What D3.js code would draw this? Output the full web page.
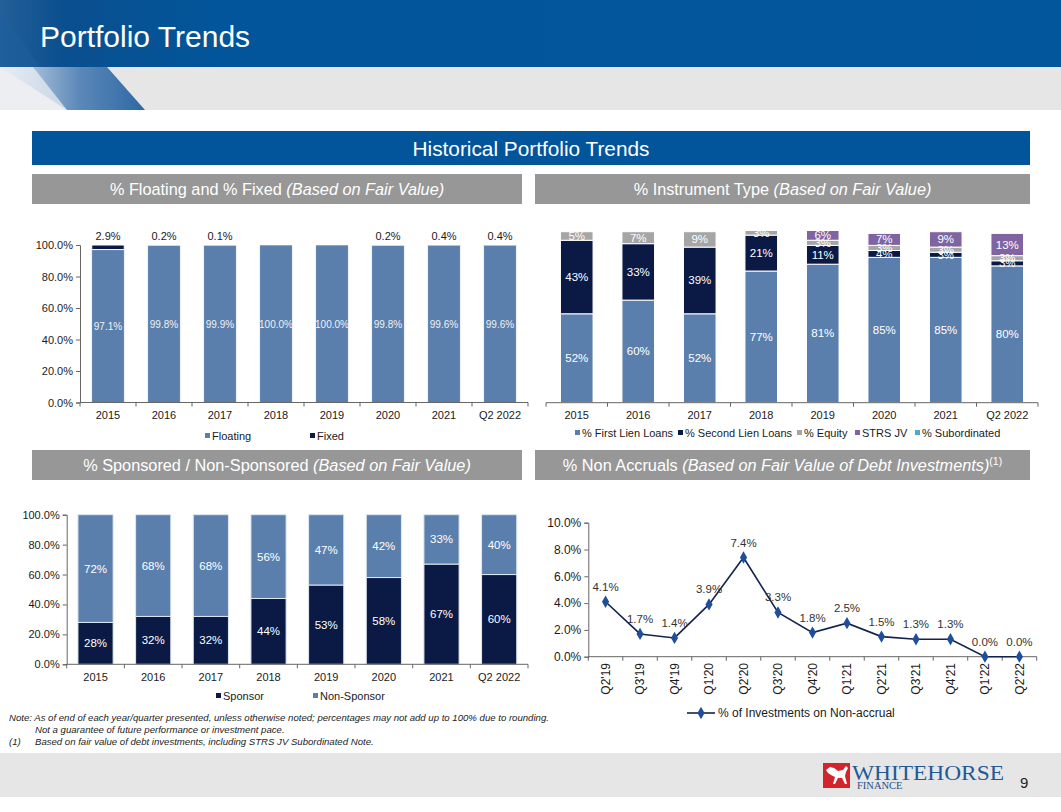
<!DOCTYPE html>
<html><head><meta charset="utf-8">
<script src="https://cdn.jsdelivr.net/npm/d3@7/dist/d3.min.js"></script>
<style>
body{margin:0;padding:0;background:#fff;}
svg{display:block;font-family:"Liberation Sans",Arial,sans-serif;}
</style></head>
<body>
<svg id="c" width="1061" height="812"></svg>
<script>
// ---------- DATA ----------
const years = ["2015","2016","2017","2018","2019","2020","2021","Q2 2022"];
const floating = [97.1,99.8,99.9,100.0,100.0,99.8,99.6,99.6];
const fixed = [2.9,0.2,0.1,0,0,0.2,0.4,0.4];

const firstLien = [52,60,52,77,81,85,85,80];
const secondLien = [43,33,39,21,11,4,3,3];
const equity = [5,7,9,3,3,3,3,3];
const strsJV = [0,0,0,0,6,7,9,13];
const subordinated = [0,0,0,0,0,0,0,0];

const sponsor = [28,32,32,44,53,58,67,60];
const nonSponsor = [72,68,68,56,47,42,33,40];

const quarters = ["Q2'19","Q3'19","Q4'19","Q1'20","Q2'20","Q3'20","Q4'20","Q1'21","Q2'21","Q3'21","Q4'21","Q1'22","Q2'22"];
const nonAccrual = [4.1,1.7,1.4,3.9,7.4,3.3,1.8,2.5,1.5,1.3,1.3,0.0,0.0];

const pctTicks = [0,20,40,60,80,100];
const naTicks = [0,2,4,6,8,10];

// ---------- STYLE ----------
const C = {
  steel:"#5b7fac", navy:"#0b1a45", gray:"#a5a5a5", purple:"#8064a2", teal:"#4bacc6",
  headBlue:"#02559a", subGray:"#979797", axis:"#666", text:"#1a1a1a"
};

const svg = d3.select("#c");
const defs = svg.append("defs");

// ---------- HEADER ----------
const hg = defs.append("linearGradient").attr("id","hg").attr("x1","0").attr("x2","1").attr("y1","0").attr("y2","0");
hg.append("stop").attr("offset","0").attr("stop-color","#245f98");
hg.append("stop").attr("offset","0.06").attr("stop-color","#0a4f8e");
hg.append("stop").attr("offset","0.2").attr("stop-color","#02559a");
hg.append("stop").attr("offset","1").attr("stop-color","#02569b");
svg.append("rect").attr("x",0).attr("y",0).attr("width",1061).attr("height",67).attr("fill","url(#hg)");
svg.append("polygon").attr("points","0,10 40,67 0,67").attr("fill","#1d5f9c").attr("opacity",0.6);
svg.append("rect").attr("x",0).attr("y",67).attr("width",1061).attr("height",43).attr("fill","#e6e6e6");
const pg = defs.append("linearGradient").attr("id","pg").attr("x1","0").attr("x2","1").attr("y1","0").attr("y2","0");
pg.append("stop").attr("offset","0").attr("stop-color","#d7e2ee");
pg.append("stop").attr("offset","0.55").attr("stop-color","#5b88b8");
pg.append("stop").attr("offset","1").attr("stop-color","#2e68a4");
svg.append("polygon").attr("points","0,67 107,67 145,110 67,110").attr("fill","url(#pg)");
svg.append("polygon").attr("points","0,67 33,67 67,110 0,110").attr("fill","#eef1f5").attr("opacity",0.7);
svg.append("text").attr("x",40).attr("y",47).attr("fill","#fff").attr("font-size",30).text("Portfolio Trends");

// Section bar
svg.append("rect").attr("x",32).attr("y",131).attr("width",998).attr("height",34).attr("fill",C.headBlue);
svg.append("text").attr("x",531).attr("y",155.5).attr("text-anchor","middle").attr("fill","#fff").attr("font-size",20.8).text("Historical Portfolio Trends");

function subHeader(x,y,w,main,ital,sup){
  svg.append("rect").attr("x",x).attr("y",y).attr("width",w).attr("height",30).attr("fill",C.subGray);
  const t = svg.append("text").attr("x",x+w/2).attr("y",y+20.5).attr("text-anchor","middle").attr("fill","#fff").attr("font-size",16.3);
  t.append("tspan").text(main);
  t.append("tspan").attr("font-style","italic").text(ital);
  if(sup){ t.append("tspan").attr("font-size",10.5).attr("dy",-6).text(sup); }
}
subHeader(32,174,490,"% Floating and % Fixed ","(Based on Fair Value)");
subHeader(535,174,495,"% Instrument Type ","(Based on Fair Value)");
subHeader(32,450,490,"% Sponsored / Non-Sponsored ","(Based on Fair Value)");
subHeader(535,450,495,"% Non Accruals ","(Based on Fair Value of Debt Investments)","(1)");

// ---------- helpers ----------
function bandAxis(g, x, y0, fs, labelY){
  const [r0,r1] = x.range();
  g.append("line").attr("x1",r0).attr("x2",r1).attr("y1",y0).attr("y2",y0).attr("stroke",C.axis).attr("stroke-width",1);
  const step = x.step();
  for(let i=0;i<=x.domain().length;i++){
    const xx = r0 + i*step;
    g.append("line").attr("x1",xx).attr("x2",xx).attr("y1",y0).attr("y2",y0+4).attr("stroke",C.axis);
  }
  g.selectAll(null).data(x.domain()).join("text")
    .attr("x",d=>x(d)+x.bandwidth()/2).attr("y",labelY).attr("text-anchor","middle")
    .attr("font-size",fs).attr("fill",C.text).text(d=>d);
}
function yAxis(g, y, x0, ticks, fmt, fs){
  const ax = d3.axisLeft(y).tickValues(ticks).tickFormat(fmt).tickSize(4).tickPadding(3);
  const a = g.append("g").attr("transform",`translate(${x0},0)`).call(ax);
  a.select(".domain").attr("stroke",C.axis);
  a.selectAll(".tick line").attr("stroke",C.axis);
  a.selectAll(".tick text").attr("font-size",fs).attr("fill",C.text).attr("font-family","Liberation Sans, Arial, sans-serif");
}
function legendItems(g, items, y, fs){
  items.forEach(it=>{
    g.append("rect").attr("x",it.x).attr("y",y-3).attr("width",5).attr("height",5).attr("fill",it.c);
    g.append("text").attr("x",it.x+7).attr("y",y+3.5).attr("font-size",fs).attr("fill",C.text).text(it.t);
  });
}

// ---------- CHART 1: Floating / Fixed ----------
{
  const g = svg.append("g");
  const x = d3.scaleBand().domain(years).range([80,528]).paddingInner(0.42).paddingOuter(0.21);
  const y = d3.scaleLinear().domain([0,100]).range([402.5,245]);
  const table = years.map((d,i)=>({year:d, Floating:floating[i], Fixed:fixed[i]}));
  const series = d3.stack().keys(["Floating","Fixed"])(table);
  const col = {Floating:C.steel, Fixed:C.navy};
  series.forEach(s=>{
    g.selectAll(null).data(s).join("rect")
      .attr("x",d=>x(d.data.year)).attr("width",x.bandwidth())
      .attr("y",d=>y(d[1])).attr("height",d=>Math.max(0,y(d[0])-y(d[1])))
      .attr("fill",col[s.key]).attr("stroke","#fff").attr("stroke-width",d=>s.key==="Fixed"&&d.data.Fixed>1?1:0.6);
  });
  g.selectAll(null).data(table).join("text")
    .attr("x",d=>x(d.year)+x.bandwidth()/2).attr("y",d=>(y(0)+y(d.Floating))/2+4)
    .attr("text-anchor","middle").attr("font-size",10).attr("fill","#eef2f7").text(d=>d.Floating.toFixed(1)+"%");
  g.selectAll(null).data(table.filter(d=>d.Fixed>0)).join("text")
    .attr("x",d=>x(d.year)+x.bandwidth()/2).attr("y",240)
    .attr("text-anchor","middle").attr("font-size",11).attr("fill",C.text).text(d=>d.Fixed.toFixed(1)+"%");
  yAxis(g,y,80,pctTicks,d=>d.toFixed(1)+"%",11);
  bandAxis(g,x,402.5,11,419);
  legendItems(g,[{x:205,c:C.steel,t:"Floating"},{x:310,c:C.navy,t:"Fixed"}],436,11);
}

// ---------- CHART 2: Instrument type ----------
{
  const g = svg.append("g");
  defs.append("clipPath").attr("id","clip2").append("rect").attr("x",540).attr("y",231).attr("width",500).attr("height",175);
  const x = d3.scaleBand().domain(years).range([546,1038]).paddingInner(0.47).paddingOuter(0.235);
  const y = d3.scaleLinear().domain([0,100]).range([402.7,231.7]);
  const keys = ["First","Second","Equity","STRS","Sub"];
  const table = years.map((d,i)=>({year:d, First:firstLien[i], Second:secondLien[i], Equity:equity[i], STRS:strsJV[i], Sub:subordinated[i]}));
  const series = d3.stack().keys(keys)(table);
  const col = {First:C.steel, Second:C.navy, Equity:C.gray, STRS:C.purple, Sub:C.teal};
  const pg2 = g.append("g").attr("clip-path","url(#clip2)");
  series.forEach(s=>{
    pg2.selectAll(null).data(s.filter(d=>d[1]>d[0])).join("rect")
      .attr("x",d=>x(d.data.year)).attr("width",x.bandwidth())
      .attr("y",d=>y(d[1])).attr("height",d=>y(d[0])-y(d[1]))
      .attr("fill",col[s.key]).attr("stroke","#fff").attr("stroke-width",1);
  });
  series.forEach(s=>{
    pg2.selectAll(null).data(s.filter(d=>d[1]>d[0])).join("text")
      .attr("x",d=>x(d.data.year)+x.bandwidth()/2).attr("y",d=>(y(d[0])+y(d[1]))/2+4)
      .attr("text-anchor","middle").attr("font-size",11.5).attr("fill","#fff").text(d=>(d[1]-d[0])+"%");
  });
  bandAxis(g,x,402.7,11,419);
  legendItems(g,[
    {x:575,c:C.steel,t:"% First Lien Loans"},
    {x:678,c:C.navy,t:"% Second Lien Loans"},
    {x:797,c:C.gray,t:"% Equity"},
    {x:855,c:C.purple,t:"STRS JV"},
    {x:915,c:C.teal,t:"% Subordinated"}],433,11);
}

// ---------- CHART 3: Sponsor ----------
{
  const g = svg.append("g");
  const x = d3.scaleBand().domain(years).range([66.7,528]).paddingInner(0.39).paddingOuter(0.195);
  const y = d3.scaleLinear().domain([0,100]).range([664.3,514.7]);
  const table = years.map((d,i)=>({year:d, Sponsor:sponsor[i], Non:nonSponsor[i]}));
  const series = d3.stack().keys(["Sponsor","Non"])(table);
  const col = {Sponsor:C.navy, Non:C.steel};
  series.forEach(s=>{
    g.selectAll(null).data(s).join("rect")
      .attr("x",d=>x(d.data.year)).attr("width",x.bandwidth())
      .attr("y",d=>y(Math.min(100,d[1]))).attr("height",d=>y(d[0])-y(Math.min(100,d[1])))
      .attr("fill",col[s.key]).attr("stroke","#dfe7f0").attr("stroke-width",1);
    g.selectAll(null).data(s).join("text")
      .attr("x",d=>x(d.data.year)+x.bandwidth()/2).attr("y",d=>(y(d[0])+y(Math.min(100,d[1])))/2+4)
      .attr("text-anchor","middle").attr("font-size",11.5).attr("fill","#fff").text(d=>(d[1]-d[0])+"%");
  });
  yAxis(g,y,66.7,pctTicks,d=>d.toFixed(1)+"%",11);
  bandAxis(g,x,664.3,11,680.5);
  legendItems(g,[{x:216,c:C.navy,t:"Sponsor"},{x:313,c:C.steel,t:"Non-Sponsor"}],696,11);
}

// ---------- CHART 4: Non accruals ----------
{
  const g = svg.append("g");
  const x = d3.scalePoint().domain(quarters).range([588.3,1036.7]).padding(0.5);
  const y = d3.scaleLinear().domain([0,10]).range([656.7,522.7]);
  const step = x.step();
  g.append("line").attr("x1",588.3).attr("x2",1036.7).attr("y1",656.7).attr("y2",656.7).attr("stroke",C.axis);
  for(let i=0;i<=quarters.length;i++){
    const xx = 588.3 + i*step;
    g.append("line").attr("x1",xx).attr("x2",xx).attr("y1",656.7).attr("y2",660.7).attr("stroke",C.axis);
  }
  yAxis(g,y,588.3,naTicks,d=>d.toFixed(1)+"%",12);
  const pts = quarters.map((q,i)=>({q, v:nonAccrual[i]}));
  g.append("path").datum(pts)
    .attr("d",d3.line().x(d=>x(d.q)).y(d=>y(d.v)))
    .attr("fill","none").attr("stroke","#14224e").attr("stroke-width",1.6);
  g.selectAll(null).data(pts).join("path")
    .attr("transform",d=>`translate(${x(d.q)},${y(d.v)})`)
    .attr("d",d3.symbol(d3.symbolDiamond,44)).attr("fill","#1f4e9b");
  g.selectAll(null).data(pts).join("text")
    .attr("x",d=>x(d.q)).attr("y",d=>y(d.v)-11)
    .attr("text-anchor","middle").attr("font-size",11.5).attr("fill","#333").text(d=>d.v.toFixed(1)+"%");
  g.selectAll(null).data(quarters).join("text")
    .attr("transform",d=>`translate(${x(d)},663) rotate(-90)`)
    .attr("text-anchor","end").attr("dy","0.35em").attr("font-size",12).attr("fill",C.text).text(d=>d);
  g.append("line").attr("x1",687).attr("x2",715).attr("y1",713).attr("y2",713).attr("stroke","#14224e").attr("stroke-width",1.6);
  g.append("path").attr("transform","translate(701,713)").attr("d",d3.symbol(d3.symbolDiamond,44)).attr("fill","#1f4e9b");
  g.append("text").attr("x",718).attr("y",717).attr("font-size",12).attr("fill",C.text).text("% of Investments on Non-accrual");
}

// ---------- FOOTNOTES ----------
{
  const f = svg.append("g").attr("font-size",9.6).attr("font-style","italic").attr("fill","#222");
  f.append("text").attr("x",9).attr("y",721).text("Note: As of end of each year/quarter presented, unless otherwise noted; percentages may not add up to 100% due to rounding.");
  f.append("text").attr("x",35).attr("y",733).text("Not a guarantee of future performance or investment pace.");
  f.append("text").attr("x",9).attr("y",745).text("(1)");
  f.append("text").attr("x",35).attr("y",745).text("Based on fair value of debt investments, including STRS JV Subordinated Note.");
}

// ---------- FOOTER ----------
svg.append("rect").attr("x",0).attr("y",753).attr("width",1061).attr("height",44).attr("fill","#e6e6e6");
svg.append("rect").attr("x",823).attr("y",763).attr("width",27).attr("height",25).attr("fill","#d3232b");
svg.append("path").attr("fill","#fff")
  .attr("d","M826,770 L830,767 L834,768 L838,771 L843,770 L846,766 L848,768 L846,772 L845,776 L847,784 L845,784 L842,778 L838,778 L835,784 L833,784 L835,777 L831,775 L828,773 Z");
svg.append("text").attr("x",852).attr("y",780).attr("font-family","Liberation Serif, DejaVu Serif, serif").attr("font-size",22).attr("fill","#1f5a96").attr("textLength",152).attr("lengthAdjust","spacingAndGlyphs").text("WHITEHORSE");
svg.append("text").attr("x",857).attr("y",789).attr("font-family","Liberation Serif, DejaVu Serif, serif").attr("font-size",10.5).attr("fill","#1f4f85").text("FINANCE");
svg.append("text").attr("x",1020).attr("y",788).attr("font-size",15).attr("fill","#222").text("9");
</script>
</body></html>
